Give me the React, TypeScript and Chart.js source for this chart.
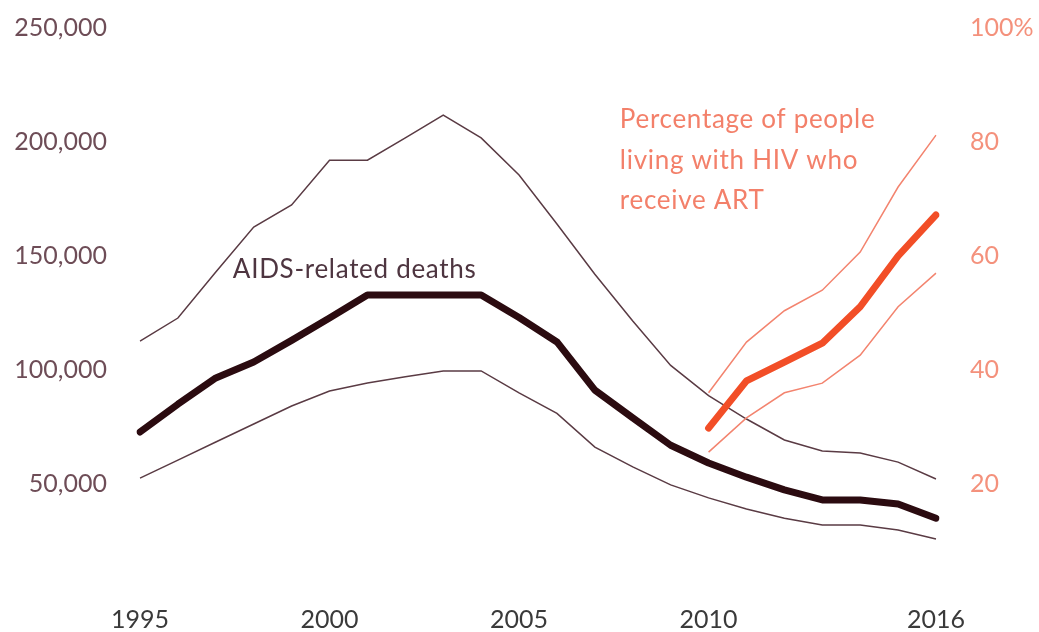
import React, { useEffect, useRef } from "react";
import { Chart, registerables } from "chart.js";

Chart.register(...registerables);

const years: number[] = [
  1995, 1996, 1997, 1998, 1999, 2000, 2001, 2002, 2003, 2004, 2005,
  2006, 2007, 2008, 2009, 2010, 2011, 2012, 2013, 2014, 2015, 2016,
];
const shownYears: number[] = [1995, 2000, 2005, 2010, 2016];

const deaths: number[] = [
  72800, 85000, 96500, 103500, 113000, 122800, 132900, 132900, 132900, 132900, 123000,
  112300, 91200, 79000, 67000, 59200, 53000, 47400, 43000, 43000, 41200, 35000,
];
const deathsHigh: number[] = [
  112700, 122800, 143000, 162700, 172400, 192000, 192000, 201800, 211800, 201800, 185500,
  164000, 142000, 121500, 102000, 88800, 78500, 69300, 64500, 63600, 59600, 52200,
];
const deathsLow: number[] = [
  52600, 60500, 68400, 76300, 84200, 90800, 94300, 97000, 99600, 99600, 90000,
  81000, 66200, 57500, 49600, 43900, 39000, 35000, 32000, 32000, 29800, 25900,
];

const artYears: number[] = [2010, 2011, 2012, 2013, 2014, 2015, 2016];
const art: number[] = [29.8, 38.1, 41.4, 44.7, 51.1, 60.0, 67.2];
const artHigh: number[] = [36.0, 44.9, 50.4, 54.0, 60.7, 72.1, 81.2];
const artLow: number[] = [25.6, 31.6, 36.0, 37.7, 42.6, 51.1, 57.0];

const deathsLabel = "AIDS-related deaths";
const deathsLabelAt = { year: 1997.45, value: 144000 };
const artLabelLines: string[] = ["Percentage of people", "living with HIV who", "receive ART"];
const artLabelAt = { year: 2007.66, values: [83.9, 76.8, 69.8] };

const FONT = "Lato, 'Noto Sans', sans-serif";

const alignArt = (vals: number[]) =>
  years.map((y) => {
    const i = artYears.indexOf(y);
    return i >= 0 ? vals[i] : null;
  });

const annotationPlugin = {
  id: "annotations",
  afterDatasetsDraw(chart: any) {
    const { ctx, scales } = chart;
    const x = scales.x;
    const yl = scales.y;
    const yr = scales.y2;
    const xPos = (yr0: number) => {
      const i0 = Math.floor(yr0 - years[0]);
      const f = yr0 - years[0] - i0;
      const a = x.getPixelForValue(i0);
      const b = x.getPixelForValue(i0 + 1);
      return a + (b - a) * f;
    };
    ctx.save();
    ctx.font = `26px ${FONT}`;
    try {
      (ctx as any).letterSpacing = "0.7px";
    } catch (e) {}
    ctx.textBaseline = "middle";
    ctx.textAlign = "left";
    ctx.fillStyle = "#4e3540";
    ctx.fillText(deathsLabel, xPos(deathsLabelAt.year), yl.getPixelForValue(deathsLabelAt.value));
    ctx.fillStyle = "#f3806a";
    artLabelLines.forEach((line, i) => {
      ctx.fillText(line, xPos(artLabelAt.year), yr.getPixelForValue(artLabelAt.values[i]));
    });
    ctx.restore();
  },
};

const noVPad = (s: any, w: number) => {
  s.width = w;
  s.paddingTop = 0;
  s.paddingBottom = 0;
};

export default function App() {
  const ref = useRef<HTMLCanvasElement | null>(null);

  useEffect(() => {
    if (!ref.current) return;
    const chart = new Chart(ref.current, {
      type: "line",
      data: {
        labels: years.map(String),
        datasets: [
          {
            data: alignArt(art),
            yAxisID: "y2",
            borderColor: "#f24e27",
            borderWidth: 7,
            borderCapStyle: "round",
            borderJoinStyle: "round",
            pointRadius: 0,
            tension: 0,
          },
          {
            data: alignArt(artHigh),
            yAxisID: "y2",
            borderColor: "#f3846f",
            borderWidth: 1.5,
            pointRadius: 0,
            tension: 0,
          },
          {
            data: alignArt(artLow),
            yAxisID: "y2",
            borderColor: "#f3846f",
            borderWidth: 1.5,
            pointRadius: 0,
            tension: 0,
          },
          {
            data: deaths,
            yAxisID: "y",
            borderColor: "#2b0b10",
            borderWidth: 7,
            borderCapStyle: "round",
            borderJoinStyle: "round",
            pointRadius: 0,
            tension: 0,
          },
          {
            data: deathsHigh,
            yAxisID: "y",
            borderColor: "#5a3b44",
            borderWidth: 1.5,
            pointRadius: 0,
            tension: 0,
          },
          {
            data: deathsLow,
            yAxisID: "y",
            borderColor: "#5a3b44",
            borderWidth: 1.5,
            pointRadius: 0,
            tension: 0,
          },
        ],
      },
      options: {
        animation: false,
        responsive: true,
        maintainAspectRatio: false,
        layout: { padding: { top: 28, left: 0, right: 0, bottom: 0 } },
        plugins: {
          legend: { display: false },
          tooltip: { enabled: false },
        },
        scales: {
          x: {
            type: "category",
            offset: false,
            grid: { display: false, drawTicks: false },
            border: { display: false },
            afterFit: (s: any) => {
              s.height = 34;
            },
            ticks: {
              autoSkip: false,
              maxRotation: 0,
              padding: 7,
              color: "#3a3a3a",
              font: { family: FONT, size: 25 },
              callback: (_v: any, i: number) =>
                shownYears.includes(years[i]) ? String(years[i]) : "",
            },
          },
          y: {
            position: "left",
            min: 0,
            max: 250000,
            grid: { display: false, drawTicks: false },
            border: { display: false },
            afterFit: (s: any) => noVPad(s, 140),
            ticks: {
              stepSize: 50000,
              padding: 33,
              color: "#6e4d57",
              font: { family: FONT, size: 25 },
              callback: (v: any) => (v === 0 ? "" : Number(v).toLocaleString("en-US")),
            },
          },
          y2: {
            position: "right",
            min: 0,
            max: 100,
            grid: { display: false, drawTicks: false },
            border: { display: false },
            afterFit: (s: any) => noVPad(s, 103),
            ticks: {
              stepSize: 20,
              padding: 34,
              color: "#f4917c",
              font: { family: FONT, size: 25 },
              callback: (v: any) => (v === 0 ? "" : v === 100 ? "100%" : String(v)),
            },
          },
        },
      },
      plugins: [annotationPlugin],
    } as any);
    return () => chart.destroy();
  }, []);

  return (
    <div style={{ position: "absolute", left: 0, top: 0, width: 1039, height: 632, background: "#fff" }}>
      <canvas ref={ref} />
    </div>
  );
}
